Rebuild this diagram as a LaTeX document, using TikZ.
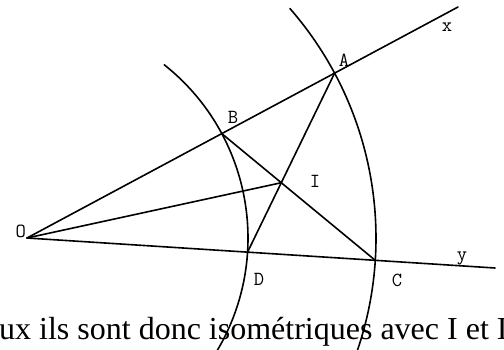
\documentclass[tikz,border=0pt]{standalone}
\usepackage{fontspec}
\setmainfont{Liberation Serif}
\usetikzlibrary{calc}
\begin{document}
\begin{tikzpicture}[x=1pt,y=1pt,
  geo/.style={line width=1.6pt, line cap=round},
  lbl/.style={font=\ttfamily\fontsize{20}{20}\selectfont, inner sep=0pt},
  body/.style={font=\fontsize{32}{32}\selectfont, inner sep=0pt, anchor=base west}]
\useasboundingbox (0,0) rectangle (504,349);
\clip (0,0) rectangle (504,349);
\fill[white] (0,0) rectangle (504,349);
% points
\coordinate (O) at (27,111);
\coordinate (X) at (458,342);
\coordinate (Y) at (495,81);
\coordinate (B) at ($(O)+(28.19:221)$);
\coordinate (A) at ($(O)+(28.19:349)$);
\coordinate (D) at ($(O)+(-3.67:221)$);
\coordinate (C) at ($(O)+(-3.67:349)$);
\coordinate (I) at (intersection of B--C and A--D);
% text
\node[body] (txt) at (-1,10) {ux ils sont donc isométriques avec I et I};
% rays and segments
\draw[geo] (O) -- (X);
\draw[geo] (O) -- (Y);
\draw[geo] (B) -- (C);
\draw[geo] (A) -- (D);
\draw[geo] (O) -- (I);
% arcs
\draw[geo] ($(O)+(51.6:221)$) arc[start angle=51.6, end angle=-32, radius=221];
\draw[geo] ($(O)+(41.1:349)$) arc[start angle=41.1, end angle=-20, radius=349];
% labels
\node[lbl] (lO) at (20.7,117.5) {O};
\node[lbl] (lA) at (344,289) {A};
\node[lbl] (lB) at (233,232) {B};
\node[lbl] (lI) at (315,168) {I};
\node[lbl] (lD) at (259,70) {D};
\node[lbl] (lC) at (397,69) {C};
\node[lbl] (lx) at (447,322) {x};
\node[lbl] (ly) at (462,91) {y};
\end{tikzpicture}
\end{document}
